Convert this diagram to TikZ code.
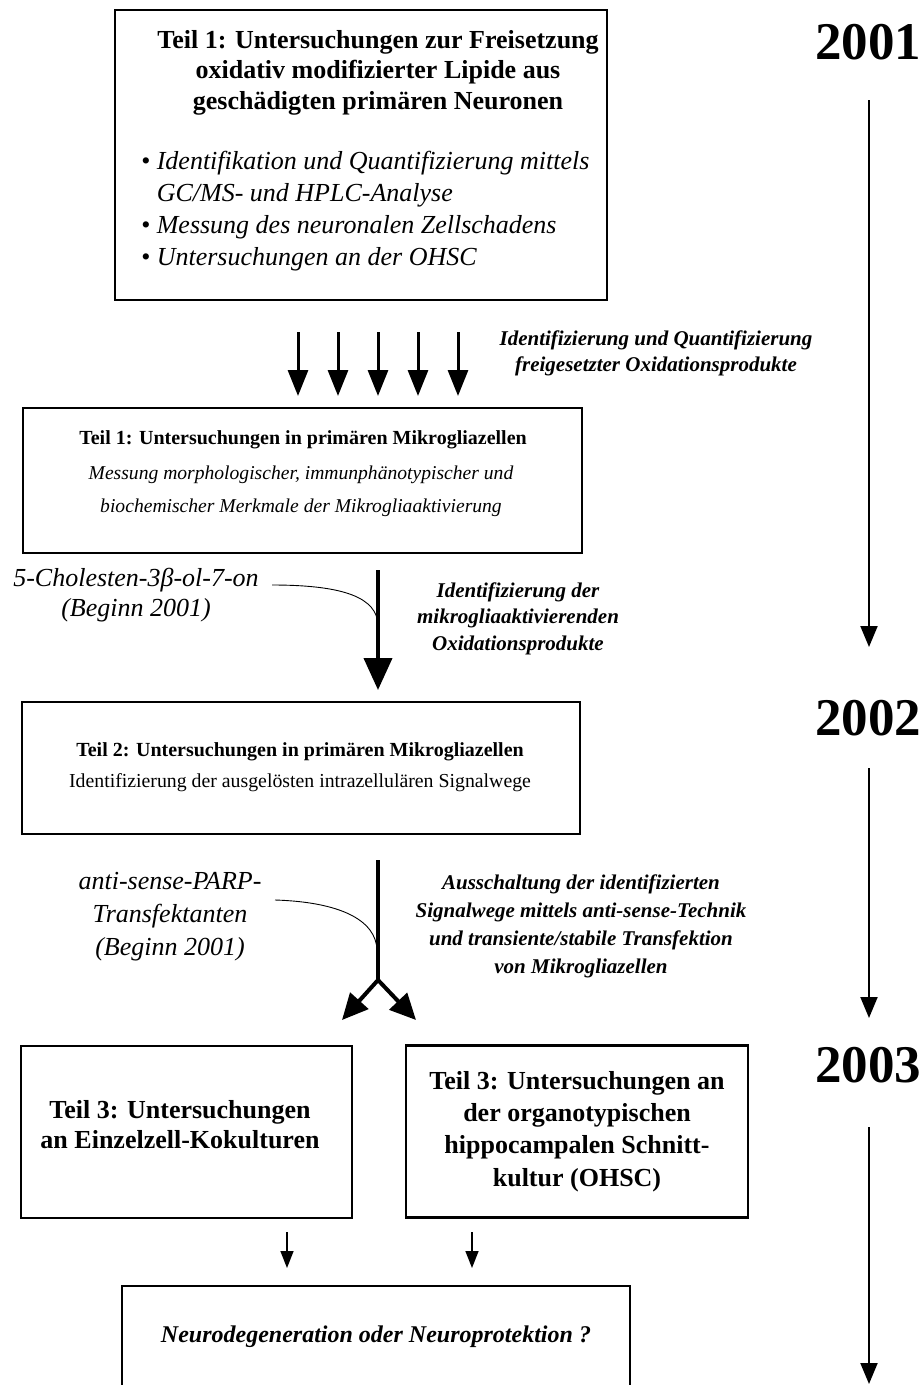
\documentclass[tikz,border=0pt]{standalone}
\usepackage{fontspec}
\setmainfont{Liberation Serif}
\usetikzlibrary{arrows.meta}
\begin{document}
\begin{tikzpicture}[x=1pt,y=-1pt,
  box/.style={draw, line width=2.4pt, inner sep=0pt},
  hd/.style={font=\fontsize{26}{31}\selectfont\bfseries, align=center, inner sep=0pt},
  hds/.style={font=\fontsize{20}{33}\selectfont\bfseries, align=center, inner sep=0pt},
  it/.style={font=\fontsize{26}{32}\selectfont\itshape, align=center, inner sep=0pt},
  its/.style={font=\fontsize{19.6}{33}\selectfont\itshape, align=center, inner sep=0pt},
  rm/.style={font=\fontsize{19.8}{31}\selectfont, align=center, inner sep=0pt},
  lbl/.style={font=\fontsize{21}{26.5}\selectfont\bfseries\itshape, align=center, inner sep=0pt},
  yr/.style={font=\fontsize{53}{55}\selectfont\bfseries, inner sep=0pt},
  bigarrow/.style={line width=4pt, -{Triangle[width=28pt,length=32pt]}},
  midarrow/.style={line width=3pt, -{Triangle[width=20pt,length=26pt]}},
  timearrow/.style={line width=2pt, -{Triangle[width=17pt,length=21pt]}},
  smallarrow/.style={line width=1.5pt, -{Triangle[width=13pt,length=17pt]}},
  thin/.style={line width=0.9pt}
]
\useasboundingbox (0,0) rectangle (924,1385);
\clip (0,0) rectangle (924,1385);
\fill[white] (0,0) rectangle (924,1385);

% boxes
\node[box, minimum width=492, minimum height=290] (b1) at (361,155) {};
\node[box, minimum width=559, minimum height=145] (b2) at (302.5,480.5) {};
\node[box, minimum width=558, minimum height=132] (b3) at (301,768) {};
\node[box, minimum width=331, minimum height=172] (b4) at (186.5,1132) {};
\node[box, minimum width=342, minimum height=172] (b5) at (577,1131.5) {};
\node[box, minimum width=508, minimum height=140] (b6) at (376,1356) {};

% box texts
\node[hd, font=\fontsize{26}{30.5}\selectfont\bfseries] (t1) at (378,72.5) {Teil 1: Untersuchungen zur Freisetzung\\oxidativ modifizierter Lipide aus\\geschädigten primären Neuronen};
\node[it, align=left, anchor=west] (t1b) at (141,211) {\textbullet\ Identifikation und Quantifizierung mittels\\\hphantom{\textbullet\ }GC/MS- und HPLC-Analyse\\\textbullet\ Messung des neuronalen Zellschadens\\\textbullet\ Untersuchungen an der OHSC};

\node[hds] (t2) at (303,440) {Teil 1: Untersuchungen in primären Mikrogliazellen};
\node[its] (t2b) at (301,491.5) {Messung morphologischer, immunphänotypischer und\\biochemischer Merkmale der Mikrogliaaktivierung};

\node[hds] (t3) at (300,752) {Teil 2: Untersuchungen in primären Mikrogliazellen};
\node[rm] (t3b) at (300,783) {Identifizierung der ausgelösten intrazellulären Signalwege};

\node[hd, font=\fontsize{26}{30}\selectfont\bfseries] (t4) at (180,1125) {Teil 3: Untersuchungen\\an Einzelzell-Kokulturen};
\node[hd, font=\fontsize{26}{32.3}\selectfont\bfseries] (t5) at (577,1131.5) {Teil 3: Untersuchungen an\\der organotypischen\\hippocampalen Schnitt-\\kultur (OHSC)};

\node[font=\fontsize{24}{31}\selectfont\bfseries\itshape, inner sep=0pt] (t6) at (376,1337) {Neurodegeneration oder Neuroprotektion ?};

% labels
\node[lbl, font=\fontsize{21}{26}\selectfont\bfseries\itshape] (l1) at (656,353) {Identifizierung und Quantifizierung\\freigesetzter Oxidationsprodukte};
\node[lbl] (l2) at (518,618.5) {Identifizierung der\\mikrogliaaktivierenden\\Oxidationsprodukte};
\node[lbl, font=\fontsize{21}{28}\selectfont\bfseries\itshape] (l3) at (581,926) {Ausschaltung der identifizierten\\Signalwege mittels anti-sense-Technik\\und transiente/stabile Transfektion\\von Mikrogliazellen};

\node[it, font=\fontsize{26}{30}\selectfont\itshape] (c1) at (136,595) {5-Cholesten-3β-ol-7-on\\(Beginn 2001)};
\node[it, font=\fontsize{26}{33}\selectfont\itshape] (c2) at (170,916.5) {anti-sense-PARP-\\Transfektanten\\(Beginn 2001)};

% five arrows
\foreach \i/\x in {1/298,2/338,3/378,4/418,5/458}{
  \coordinate (a\i s) at (\x,332);
  \coordinate (a\i e) at (\x,396);
  \draw[midarrow] (a\i s) -- (a\i e);
}

% main arrow between b2 and b3
\coordinate (m1s) at (378,570);
\coordinate (m1e) at (378,690);
\coordinate (m1j) at (378,625);
\coordinate (c1o) at (272,585);
\draw[bigarrow] (m1s) -- (m1e);
\draw[thin] (c1o) .. controls (345,585) and (377,598) .. (m1j);

% fork
\coordinate (fs) at (378,860);
\coordinate (fk) at (378,980);
\coordinate (fl) at (342,1020);
\coordinate (fr) at (416,1020);
\coordinate (fj) at (377,950);
\draw[line width=4pt] (fs) -- (fk);
\draw[line width=4pt, -{Triangle[width=24pt,length=26pt]}] (fk) -- (fl);
\draw[line width=4pt, -{Triangle[width=24pt,length=26pt]}] (fk) -- (fr);
\coordinate (c2o) at (275,900);
\draw[thin] (c2o) .. controls (340,902) and (376,920) .. (fj);

% small arrows
\coordinate (s1s) at (287,1232);
\coordinate (s1e) at (287,1268);
\coordinate (s2s) at (472,1232);
\coordinate (s2e) at (472,1268);
\draw[smallarrow] (s1s) -- (s1e);
\draw[smallarrow] (s2s) -- (s2e);

% timeline
\node[yr] (y1) at (868,42) {2001};
\node[yr] (y2) at (868,718) {2002};
\node[yr] (y3) at (868,1065) {2003};
\coordinate (y1s) at (869,100);
\coordinate (y1e) at (869,647);
\coordinate (y2s) at (869,768);
\coordinate (y2e) at (869,1018);
\coordinate (y3s) at (869,1127);
\coordinate (y3e) at (869,1384);
\draw[timearrow] (y1s) -- (y1e);
\draw[timearrow] (y2s) -- (y2e);
\draw[timearrow] (y3s) -- (y3e);
\end{tikzpicture}
\end{document}
